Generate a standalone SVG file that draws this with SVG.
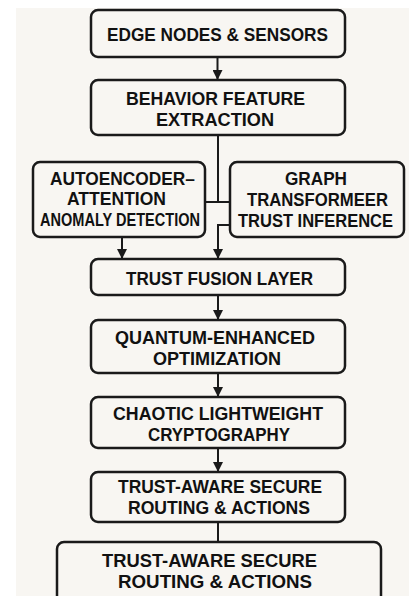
<svg xmlns="http://www.w3.org/2000/svg" width="409" height="596" viewBox="0 0 409 596">
<defs>
<style>
.box{fill:#f8f6f2;stroke:#1a1a1a;stroke-width:2.5}
.t{font-family:"Liberation Sans",Arial,sans-serif;font-weight:bold;font-size:18px;fill:#111111;text-anchor:middle}
.c{fill:none;stroke:#1a1a1a;stroke-width:2}
</style>
<marker id="ah" viewBox="0 0 10 10" refX="10" refY="5" markerWidth="5" markerHeight="5" orient="auto" markerUnits="strokeWidth">
<path d="M0,0 L10,5 L0,10 z" fill="#1a1a1a"/>
</marker>
</defs>
<rect x="0" y="0" width="409" height="596" fill="#ffffff"/>
<rect x="16" y="8" width="393" height="588" fill="#f8f6f2"/>
<g id="connectors">
<path class="c" d="M217.5,57 V80" marker-end="url(#ah)"/>
<path class="c" d="M218,135 V202 M205,202 H230"/>
<path class="c" d="M230,225 H218 V259" marker-end="url(#ah)"/>
<path class="c" d="M122,237 V259" marker-end="url(#ah)"/>
<path class="c" d="M218,295 V320" marker-end="url(#ah)"/>
<path class="c" d="M218,373 V397" marker-end="url(#ah)"/>
<path class="c" d="M218,448 V472" marker-end="url(#ah)"/>
<path class="c" d="M218,522 V542"/>
</g>
<g id="edge">
<rect class="box" x="91" y="10" width="254" height="47" rx="7"/>
<text class="t" x="217.5" y="40.5" textLength="221" lengthAdjust="spacingAndGlyphs">EDGE NODES &amp; SENSORS</text>
</g>
<g id="behavior">
<rect class="box" x="91" y="80" width="254" height="55" rx="7"/>
<text class="t" x="215.5" y="105" textLength="179" lengthAdjust="spacingAndGlyphs">BEHAVIOR FEATURE</text>
<text class="t" x="215" y="126" textLength="118" lengthAdjust="spacingAndGlyphs">EXTRACTION</text>
</g>
<g id="autoencoder">
<rect class="box" x="33" y="162" width="172" height="75" rx="7"/>
<text class="t" x="122.5" y="185" textLength="145" lengthAdjust="spacingAndGlyphs">AUTOENCODER–</text>
<text class="t" x="116.5" y="205" textLength="99" lengthAdjust="spacingAndGlyphs">ATTENTION</text>
<text class="t" x="120" y="226" textLength="160" lengthAdjust="spacingAndGlyphs">ANOMALY DETECTION</text>
</g>
<g id="graph">
<rect class="box" x="230" y="162" width="174" height="75" rx="7"/>
<text class="t" x="316" y="185" textLength="62" lengthAdjust="spacingAndGlyphs">GRAPH</text>
<text class="t" x="317.5" y="206" textLength="141" lengthAdjust="spacingAndGlyphs">TRANSFORMEER</text>
<text class="t" x="315.5" y="227" textLength="155" lengthAdjust="spacingAndGlyphs">TRUST INFERENCE</text>
</g>
<g id="fusion">
<rect class="box" x="91" y="259" width="254" height="36" rx="7"/>
<text class="t" x="219.5" y="285" textLength="187" lengthAdjust="spacingAndGlyphs">TRUST FUSION LAYER</text>
</g>
<g id="quantum">
<rect class="box" x="91" y="320" width="254" height="53" rx="7"/>
<text class="t" x="215" y="344" textLength="200" lengthAdjust="spacingAndGlyphs">QUANTUM-ENHANCED</text>
<text class="t" x="217" y="365" textLength="128" lengthAdjust="spacingAndGlyphs">OPTIMIZATION</text>
</g>
<g id="chaotic">
<rect class="box" x="91" y="397" width="254" height="51" rx="7"/>
<text class="t" x="218" y="420" textLength="210" lengthAdjust="spacingAndGlyphs">CHAOTIC LIGHTWEIGHT</text>
<text class="t" x="219" y="441" textLength="142" lengthAdjust="spacingAndGlyphs">CRYPTOGRAPHY</text>
</g>
<g id="routing">
<rect class="box" x="91" y="472" width="254" height="50" rx="7"/>
<text class="t" x="220" y="493" textLength="204" lengthAdjust="spacingAndGlyphs">TRUST-AWARE SECURE</text>
<text class="t" x="219" y="514" textLength="182" lengthAdjust="spacingAndGlyphs">ROUTING &amp; ACTIONS</text>
</g>
<g id="routing2">
<rect class="box" x="57" y="542" width="324" height="70" rx="7"/>
<text class="t" x="209.5" y="567" textLength="215" lengthAdjust="spacingAndGlyphs">TRUST-AWARE SECURE</text>
<text class="t" x="215" y="588" textLength="194" lengthAdjust="spacingAndGlyphs">ROUTING &amp; ACTIONS</text>
</g>
</svg>
